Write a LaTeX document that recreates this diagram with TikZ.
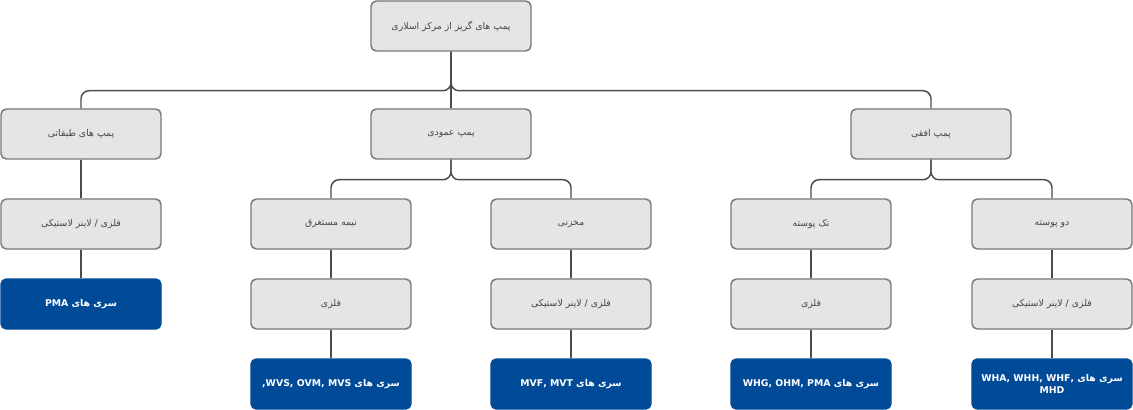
\documentclass[tikz,border=0pt]{standalone}
\usepackage{fontspec}
\usepackage{tikz}
\TeXXeTstate=1
\newfontfamily\fafont[Script=Arabic]{DejaVu Sans}
\definecolor{boxgray}{RGB}{229,229,229}
\definecolor{edgegray}{RGB}{120,120,120}
\definecolor{textgray}{RGB}{70,70,70}
\definecolor{seriesblue}{RGB}{0,74,152}
\tikzstyle{pumpbox}=[draw=edgegray, line width=1.1pt, fill=boxgray, rounded corners=4pt, minimum width=120pt, minimum height=37.5pt, inner sep=2pt, text=textgray, font=\fafont\fontsize{7}{9}\selectfont, align=center]
\tikzstyle{seriesbox}=[pumpbox, draw=seriesblue, fill=seriesblue, text=white, font=\fafont\bfseries\fontsize{7}{9}\selectfont]
\tikzstyle{pumptree}=[x=0.75pt, y=-0.75pt,
                      % Lines between the boxes.
                      every path/.style={draw=black!70, line width=1.1pt, rounded corners=6pt}]
\newcommand{\fa}[1]{\beginR #1\endR}

\begin{document}
\begin{tikzpicture}[pumptree]
        \path[use as bounding box, draw=none] (0,0) rectangle (1133,410);
        \node[pumpbox]   (top)   at (451, 26)  {\fa{پمپ های گریز از مرکز اسلاری}};
        \node[pumpbox]   (stage) at (81, 134)  {\fa{پمپ های طبقاتی}};
        \node[pumpbox]   (vert)  at (451, 134) {\fa{پمپ عمودی}};
        \node[pumpbox]   (horz)  at (931, 134) {\fa{پمپ افقی}};
        \node[pumpbox]   (stageA) at (81, 224)  {\fa{فلزی / لاینر لاستیکی}};
        \node[pumpbox]   (vertA) at (331, 224)  {\fa{نیمه مستغرق}};
        \node[pumpbox]   (vertB) at (571, 224)  {\fa{مخزنی}};
        \node[pumpbox]   (horzA) at (811, 224)  {\fa{تک پوسته}};
        \node[pumpbox]   (horzB) at (1052, 224) {\fa{دو پوسته}};
        \node[seriesbox] (stageS) at (81, 304)  {\fa{سری های \beginL PMA\endL}};
        \node[pumpbox]   (vertAm) at (331, 304) {\fa{فلزی}};
        \node[pumpbox]   (vertBm) at (571, 304) {\fa{فلزی / لاینر لاستیکی}};
        \node[pumpbox]   (horzAm) at (811, 304) {\fa{فلزی}};
        \node[pumpbox]   (horzBm) at (1052, 304) {\fa{فلزی / لاینر لاستیکی}};
        \node[seriesbox] (vertAs) at (331, 384) {\fa{سری های \beginL ,WVS, OVM, MVS\endL}};
        \node[seriesbox] (vertBs) at (571, 384) {\fa{سری های \beginL MVF, MVT\endL}};
        \node[seriesbox] (horzAs) at (811, 384) {\fa{سری های \beginL WHG, OHM, PMA\endL}};
        \node[seriesbox] (horzBs) at (1052, 384) {\fa{سری های \beginL WHA, WHH, WHF,\endL}\\MHD};
        \draw (top.south) -- ++(0,39) -| (stage.north);
        \draw (top.south) -- (vert.north);
        \draw (top.south) -- ++(0,39) -| (horz.north);
        \draw (vert.south) -- ++(0,20) -| (vertA.north);
        \draw (vert.south) -- ++(0,20) -| (vertB.north);
        \draw (horz.south) -- ++(0,20) -| (horzA.north);
        \draw (horz.south) -- ++(0,20) -| (horzB.north);
        \draw (stage) -- (stageA) -- (stageS);
        \draw (vertA) -- (vertAm) -- (vertAs);
        \draw (vertB) -- (vertBm) -- (vertBs);
        \draw (horzA) -- (horzAm) -- (horzAs);
        \draw (horzB) -- (horzBm) -- (horzBs);
    \end{tikzpicture}
\end{document}
